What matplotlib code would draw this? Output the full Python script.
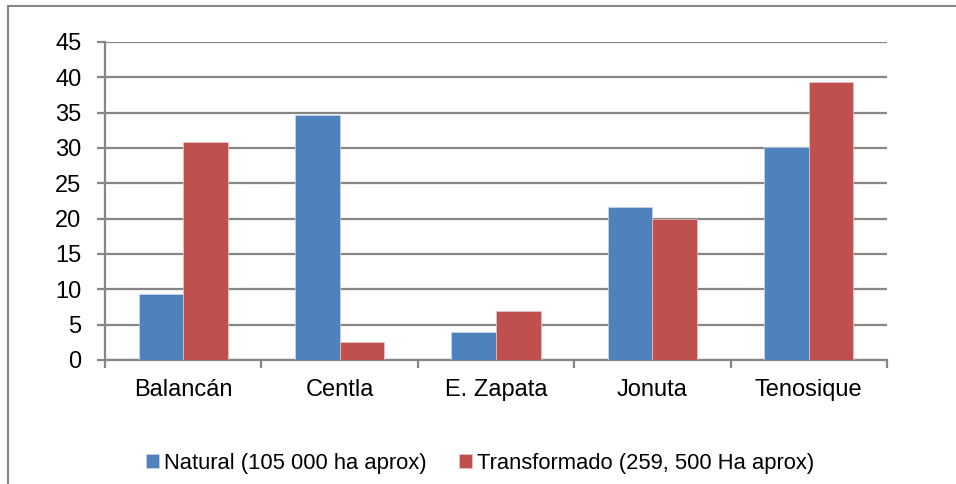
import matplotlib
matplotlib.use("Agg")
import matplotlib.pyplot as plt
import matplotlib.patches as mpatches
import numpy as np

plt.rcParams['font.family'] = ['Liberation Sans', 'DejaVu Sans']

municipios = ["Balancán", "Centla", "E. Zapata", "Jonuta", "Tenosique"]
natural = [9.3, 34.7, 4.0, 21.7, 30.2]
transformado = [30.9, 2.6, 7.0, 19.9, 39.4]
series_labels = ["Natural (105 000 ha aprox)", "Transformado (259, 500 Ha aprox)"]
y_ticks = [0, 5, 10, 15, 20, 25, 30, 35, 40, 45]

BLUE = "#4F81BD"
RED = "#C0504D"
GRID = "#868686"

fig = plt.figure(figsize=(9.56, 4.84), dpi=100)
ax = fig.add_axes([105 / 956, 1 - 360 / 484, 782 / 956, 318 / 484])

x = np.arange(len(municipios))
w = 0.285
ax.bar(x - w / 2, natural, w, color=BLUE, edgecolor="#c9d6ea", linewidth=0.5,
       label=series_labels[0], zorder=3)
ax.bar(x + w / 2, transformado, w, color=RED, edgecolor="#eac6c5", linewidth=0.5,
       label=series_labels[1], zorder=3)

ax.set_xlim(-0.5, len(municipios) - 0.5)
ax.set_ylim(0, 45)
ax.set_yticks(y_ticks)
ax.yaxis.grid(True, color=GRID, linewidth=1.6, zorder=0)
ax.set_axisbelow(True)

for side in ["top", "right"]:
    ax.spines[side].set_visible(False)
for side in ["left", "bottom"]:
    ax.spines[side].set_color(GRID)
    ax.spines[side].set_linewidth(1.6)

# category boundaries get the tick marks, names sit in between
ax.set_xticks(np.arange(len(municipios) + 1) - 0.5)
ax.set_xticklabels([])
ax.set_xticks(x, minor=True)
ax.set_xticklabels(municipios, minor=True, fontsize=17)
ax.tick_params(axis="x", which="major", length=6, width=1.6, color=GRID)
ax.tick_params(axis="x", which="minor", length=0, pad=14)
ax.tick_params(axis="y", length=6, width=1.6, color=GRID, pad=11, labelsize=17)

fig.legend(loc="center", bbox_to_anchor=(480 / 956, 1 - 463 / 484), ncol=2,
           frameon=False, fontsize=15.8, handlelength=0.6, handleheight=0.6,
           handletextpad=0.2, columnspacing=1.5)

# outer chart border like the spreadsheet frame
fig.patches.append(mpatches.Rectangle((8 / 956, -0.1), 1.2, 1 - 6 / 484 + 0.1,
                                      transform=fig.transFigure, fill=False,
                                      edgecolor=GRID, linewidth=1.5))

fig.savefig("out.png", dpi=100)
